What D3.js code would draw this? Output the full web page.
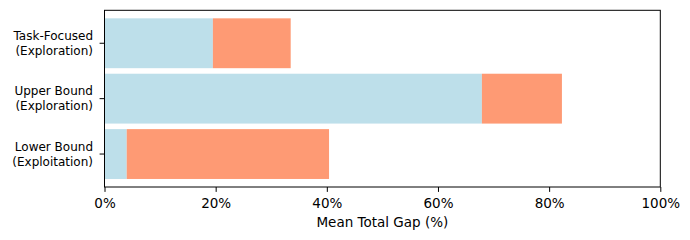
<!DOCTYPE html>
<html><head><meta charset="utf-8">
<script src="https://cdn.jsdelivr.net/npm/d3@7"></script>
<style>body{margin:0;background:#fff}svg{display:block}text{font-family:"DejaVu Sans",sans-serif}</style>
</head><body>
<svg id="c" width="690" height="240"></svg>
<script>
const categories = ["Task-Focused\n(Exploration)", "Upper Bound\n(Exploration)", "Lower Bound\n(Exploitation)"];
const seriesA = [19.5, 67.9, 4.0];
const seriesB = [14.0, 14.4, 36.4];
const xTicks = [0, 20, 40, 60, 80, 100];
const xLabel = "Mean Total Gap (%)";

const svg = d3.select("#c");
const m = {l:104.5, r:660.3, t:10.3, b:187};
const x = d3.scaleLinear().domain([0,100]).range([m.l, m.r]);
const y = d3.scaleLinear().domain([-0.595, 2.595]).range([m.t, m.b]);
const bh = 0.9;

const g = svg.append("g");
categories.forEach((c,i)=>{
  g.append("rect").attr("x", x(0)).attr("y", y(i-bh/2)).attr("width", x(seriesA[i])-x(0)).attr("height", y(i+bh/2)-y(i-bh/2)).attr("fill","#bddfea");
  g.append("rect").attr("x", x(seriesA[i])).attr("y", y(i-bh/2)).attr("width", x(seriesA[i]+seriesB[i])-x(seriesA[i])).attr("height", y(i+bh/2)-y(i-bh/2)).attr("fill","#fe9a74");
});

svg.append("rect").attr("x", m.l).attr("y", m.t).attr("width", m.r-m.l).attr("height", m.b-m.t).attr("fill","none").attr("stroke","#000").attr("stroke-width",1);

const xa = svg.append("g").attr("transform", `translate(0,${m.b})`)
  .call(d3.axisBottom(x).tickValues(xTicks).tickFormat(d=>d+"%").tickSizeOuter(0).tickSize(4.9).tickPadding(7));
xa.select(".domain").remove();
xa.selectAll("text").attr("font-size", 13.5).attr("fill","#000").attr("font-family","DejaVu Sans");
xa.selectAll("line").attr("stroke","#000");

const ya = svg.append("g");
categories.forEach((c,i)=>{
  ya.append("line").attr("x1", m.l-4.9).attr("x2", m.l).attr("y1", y(i)).attr("y2", y(i)).attr("stroke","#000");
  const lines = c.split("\n");
  const t = ya.append("text").attr("text-anchor","end").attr("font-size", 12).attr("fill","#000");
  lines.forEach((ln,j)=>{
    t.append("tspan").attr("x", m.l-11.5).attr("y", y(i) + (j - (lines.length-1)/2)*15 + 4.3).text(ln);
  });
});

svg.append("text").attr("x", (m.l+m.r)/2).attr("y", 227.3).attr("text-anchor","middle").attr("font-size", 13.5).attr("fill","#000").text(xLabel);
</script>
</body></html>
